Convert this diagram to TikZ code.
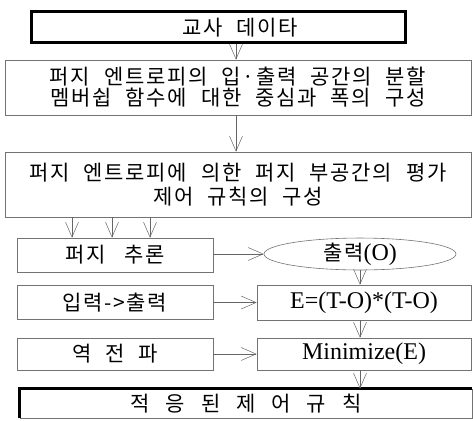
\documentclass[tikz,border=0pt]{standalone}
\usepackage{fontspec}
\usepackage{tikz}
\usetikzlibrary{arrows.meta,shapes.geometric}
\setmainfont{Liberation Serif}
\newfontfamily\kr[LetterSpace=8]{Noto Sans CJK KR}
\newcommand{\krfont}[1]{\kr\fontsize{21}{21}\selectfont\spaceskip #1\relax}
\newcommand{\hg}[1]{{\krfont{14pt}#1}}

\begin{document}
\begin{tikzpicture}[x=1pt, y=-1pt]
    \tikzstyle{every node} = [inner sep = 0pt, font = \krfont{14pt}];
    \tikzstyle{box} = [draw = black!55, line width = 0.6pt, rectangle, minimum width = 196pt, minimum height = 34pt];
    \tikzstyle{wide} = [box, minimum width = 466pt, align = center];
    \tikzstyle{latin} = [font = \fontsize{24}{28}\selectfont];
    \tikzstyle{arr} = [draw = black!60, line width = 0.5pt, -{Straight Barb[length = 15pt, width = 13pt]}];
    \useasboundingbox (0,0) rectangle (473,420);
    % boxes
    \node[box, draw = black, line width = 3pt, minimum width = 374pt, minimum height = 31pt] (data) at (218,27.5) {};
    \node (datatext) at (240,27.5) {교사 데이타};
    \node[wide, minimum height = 55pt] (part) at (238,87.5) {퍼지 엔트로피의 입·출력 공간의 분할\\멤버쉽 함수에 대한 중심과 폭의 구성};
    \node[wide, minimum height = 65pt] (rule) at (238,184.5) {퍼지 엔트로피에 의한 퍼지 부공간의 평가\\[3pt]제어 규칙의 구성};
    \node[box, font = \krfont{19pt}] (infer) at (115,255) {퍼지 추론};
    \node[draw = black!55, line width = 0.6pt, ellipse, minimum width = 192pt, minimum height = 30pt, latin] (out) at (360,254) {\hg{출력}(O)};
    \node[box] (io) at (115,302.5) {입력->출력};
    \node[box, minimum width = 214pt, minimum height = 35pt, latin] (err) at (364,302.5) {E=(T-O)*(T-O)};
    \node[box, minimum height = 32pt] (bp) at (115,354) {역 전 파};
    \node[box, minimum width = 214pt, minimum height = 32pt, latin] (min) at (364,354) {Minimize(E)};
    \node[box, minimum width = 452pt, minimum height = 29pt, font = \krfont{16pt}] (final) at (246,403.5) {적 응 된 제 어 규 칙};
    \draw[line width = 3pt] (final.south west) -- (final.north west) -- (final.north east);
    % connectors
    \draw[arr] (data.south -| 236,0) -- (part.north -| 236,0);
    \draw[arr] (part.south -| 236,0) -- (rule.north -| 236,0);
    \foreach \x in {72,112,150}
        \draw[arr] (rule.south -| \x,0) -- (infer.north -| \x,0);
    \draw[arr] (infer.east |- out.west) -- (out.west);
    \draw[arr] (out.south -| 360,0) -- (err.north -| 360,0);
    \draw[arr] (io.east) -- (err.west);
    \draw[arr] (err.south -| 360,0) -- (min.north -| 360,0);
    \draw[arr] (bp.east) -- (min.west);
    \draw[arr] (min.south -| 360,0) -- (final.north -| 360,0);
\end{tikzpicture}
\end{document}
